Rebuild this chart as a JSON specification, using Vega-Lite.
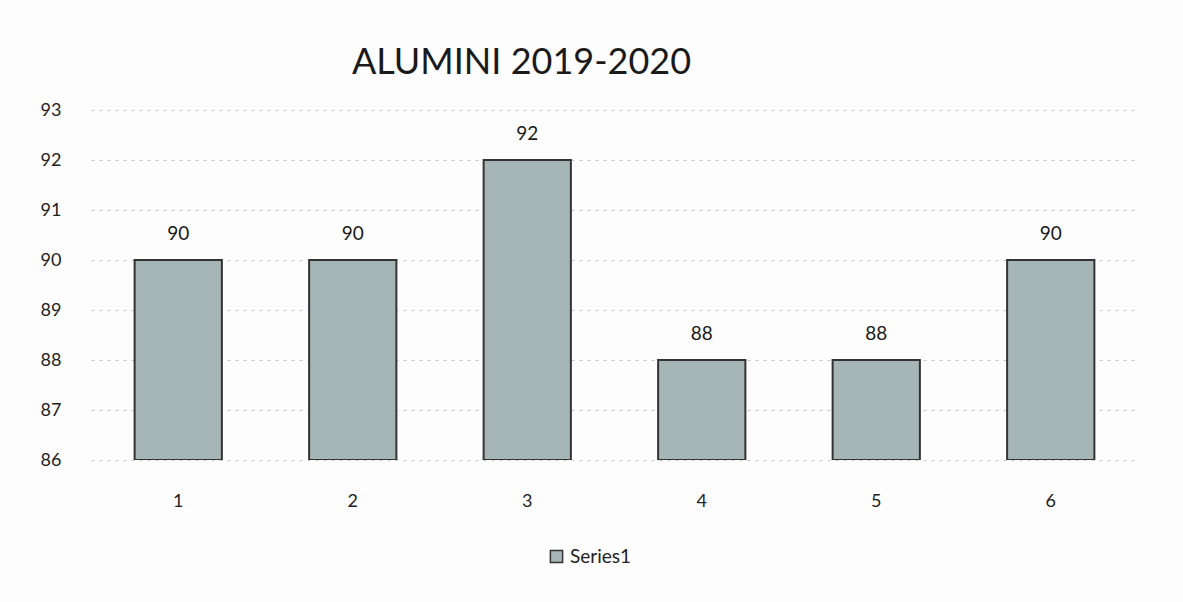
{
  "$schema": "https://vega.github.io/schema/vega-lite/v6.json",
  "width": 1047,
  "height": 350,
  "autosize": {"type": "none"},
  "padding": {"left": 91, "top": 110, "right": 45, "bottom": 142},
  "background": "#fdfdfd",
  "config": {
    "font": "Lato",
    "view": {"stroke": null},
    "axis": {"labelFont": "Lato", "labelColor": "#222", "labelFontSize": 18}
  },
  "title": {
    "text": "ALUMINI 2019-2020",
    "font": "Lato",
    "fontSize": 36,
    "fontWeight": "normal",
    "color": "#1a1a1a",
    "anchor": "middle",
    "dx": -93,
    "offset": 19
  },
  "data": {
    "values": [
      {"cat": "1", "value": 90, "series": "Series1"},
      {"cat": "2", "value": 90, "series": "Series1"},
      {"cat": "3", "value": 92, "series": "Series1"},
      {"cat": "4", "value": 88, "series": "Series1"},
      {"cat": "5", "value": 88, "series": "Series1"},
      {"cat": "6", "value": 90, "series": "Series1"}
    ]
  },
  "encoding": {
    "x": {
      "field": "cat",
      "type": "ordinal",
      "scale": {"paddingInner": 0.5, "paddingOuter": 0.25},
      "axis": {"title": null, "labelAngle": 0, "domain": false, "ticks": false, "labelPadding": 32}
    },
    "y": {
      "field": "value",
      "type": "quantitative",
      "scale": {"domain": [86, 93], "nice": false, "zero": false},
      "axis": {
        "title": null,
        "values": [86, 87, 88, 89, 90, 91, 92, 93],
        "domain": false,
        "ticks": false,
        "labelPadding": 30,
        "grid": true,
        "gridColor": "#c8c8c8",
        "gridDash": [3, 5],
        "gridWidth": 1
      }
    }
  },
  "layer": [
    {
      "mark": {"type": "bar", "stroke": "#333333", "strokeWidth": 2, "clip": true},
      "encoding": {
        "y2": {"datum": 86},
        "color": {
          "field": "series",
          "type": "nominal",
          "scale": {"range": ["#a6b6b7"]},
          "legend": {
            "title": null,
            "orient": "none",
            "legendX": 456,
            "legendY": 437,
            "direction": "horizontal",
            "symbolType": "square",
            "symbolSize": 150,
            "symbolStrokeColor": "#333",
            "symbolStrokeWidth": 1.5,
            "labelFontSize": 19,
            "labelFont": "Lato",
            "labelColor": "#222",
            "labelOffset": 4
          }
        }
      }
    },
    {
      "mark": {"type": "text", "dy": -26, "fontSize": 19, "font": "Lato", "color": "#1a1a1a"},
      "encoding": {"text": {"field": "value", "type": "quantitative"}}
    }
  ]
}
